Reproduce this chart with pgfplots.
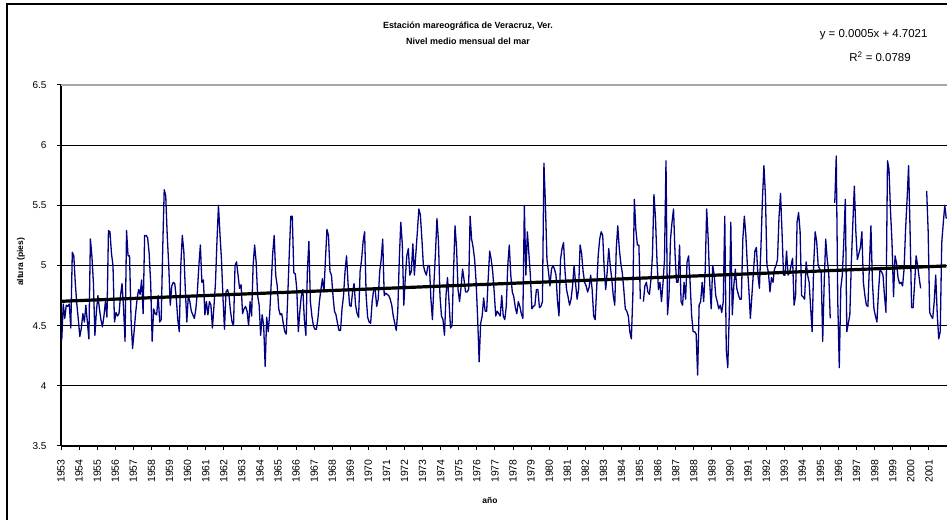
\documentclass[border=0pt]{standalone}
\usepackage{fontspec}
\setmainfont{Liberation Sans}
\usepackage{pgfplots}
\usepackage{pgfplotstable}
\pgfplotsset{compat=1.18}
\definecolor{navyline}{HTML}{000080}
\pgfplotstableread[row sep=\\]{
y\\
4.38\\ 4.68\\ 4.56\\ 4.67\\ 4.66\\ 4.68\\ 4.48\\ 5.11\\ 5.08\\ 4.85\\ 4.68\\ 4.55\\
4.41\\ 4.48\\ 4.60\\ 4.53\\ 4.67\\ 4.53\\ 4.39\\ 5.22\\ 5.08\\ 4.86\\ 4.42\\ 4.62\\
4.75\\ 4.64\\ 4.55\\ 4.49\\ 4.58\\ 4.70\\ 4.57\\ 5.29\\ 5.28\\ 5.10\\ 5.00\\ 4.53\\
4.61\\ 4.58\\ 4.60\\ 4.75\\ 4.85\\ 4.65\\ 4.37\\ 5.29\\ 5.08\\ 5.08\\ 4.55\\ 4.31\\
4.45\\ 4.60\\ 4.72\\ 4.80\\ 4.76\\ 4.88\\ 4.60\\ 5.25\\ 5.25\\ 5.23\\ 5.10\\ 4.86\\
4.37\\ 4.64\\ 4.60\\ 4.59\\ 4.75\\ 4.53\\ 4.55\\ 5.14\\ 5.63\\ 5.58\\ 5.25\\ 5.00\\
4.67\\ 4.83\\ 4.86\\ 4.85\\ 4.73\\ 4.55\\ 4.45\\ 5.00\\ 5.25\\ 5.12\\ 4.80\\ 4.53\\
4.75\\ 4.70\\ 4.62\\ 4.59\\ 4.56\\ 4.64\\ 4.78\\ 5.00\\ 5.17\\ 4.86\\ 4.88\\ 4.59\\
4.70\\ 4.59\\ 4.70\\ 4.67\\ 4.48\\ 4.66\\ 4.85\\ 5.20\\ 5.50\\ 5.26\\ 5.05\\ 4.73\\
4.47\\ 4.78\\ 4.80\\ 4.75\\ 4.62\\ 4.53\\ 4.50\\ 5.00\\ 5.03\\ 4.92\\ 4.81\\ 4.84\\
4.60\\ 4.64\\ 4.66\\ 4.62\\ 4.50\\ 4.70\\ 4.58\\ 5.00\\ 5.17\\ 5.03\\ 4.75\\ 4.67\\
4.42\\ 4.59\\ 4.50\\ 4.16\\ 4.57\\ 4.45\\ 4.60\\ 4.85\\ 5.10\\ 5.25\\ 4.92\\ 4.83\\
4.64\\ 4.59\\ 4.60\\ 4.52\\ 4.45\\ 4.43\\ 4.75\\ 5.10\\ 5.41\\ 5.41\\ 4.94\\ 4.93\\
4.80\\ 4.45\\ 4.62\\ 4.75\\ 4.80\\ 4.55\\ 4.42\\ 4.95\\ 5.20\\ 4.70\\ 4.58\\ 4.50\\
4.47\\ 4.47\\ 4.56\\ 4.70\\ 4.80\\ 4.89\\ 4.78\\ 5.05\\ 5.30\\ 5.25\\ 4.95\\ 4.92\\
4.75\\ 4.62\\ 4.59\\ 4.52\\ 4.46\\ 4.46\\ 4.64\\ 4.75\\ 4.95\\ 5.08\\ 4.85\\ 4.67\\
4.66\\ 4.78\\ 4.85\\ 4.67\\ 4.60\\ 4.57\\ 4.95\\ 5.05\\ 5.20\\ 5.28\\ 4.75\\ 4.57\\
4.53\\ 4.52\\ 4.70\\ 4.80\\ 4.80\\ 4.66\\ 4.72\\ 4.95\\ 5.05\\ 5.22\\ 4.75\\ 4.77\\
4.76\\ 4.75\\ 4.72\\ 4.67\\ 4.58\\ 4.52\\ 4.46\\ 4.62\\ 5.05\\ 5.36\\ 5.18\\ 4.67\\
4.90\\ 5.08\\ 5.14\\ 4.92\\ 4.95\\ 5.18\\ 4.92\\ 5.10\\ 5.28\\ 5.47\\ 5.42\\ 5.22\\
5.00\\ 4.95\\ 4.92\\ 5.00\\ 5.00\\ 4.72\\ 4.55\\ 4.85\\ 5.10\\ 5.39\\ 5.20\\ 4.75\\
4.58\\ 4.55\\ 4.42\\ 4.75\\ 4.90\\ 4.70\\ 4.48\\ 4.50\\ 4.95\\ 5.33\\ 5.15\\ 4.80\\
4.70\\ 4.82\\ 4.97\\ 4.88\\ 4.78\\ 4.78\\ 4.80\\ 5.41\\ 5.22\\ 5.15\\ 5.05\\ 4.86\\
4.56\\ 4.20\\ 4.52\\ 4.58\\ 4.73\\ 4.62\\ 4.62\\ 4.89\\ 5.12\\ 5.05\\ 4.95\\ 4.78\\
4.58\\ 4.62\\ 4.60\\ 4.58\\ 4.75\\ 4.58\\ 4.55\\ 4.66\\ 5.00\\ 5.17\\ 4.92\\ 4.78\\
4.74\\ 4.65\\ 4.60\\ 4.70\\ 4.66\\ 4.60\\ 4.56\\ 5.50\\ 4.92\\ 5.28\\ 5.10\\ 4.92\\
4.64\\ 4.66\\ 4.67\\ 4.80\\ 4.80\\ 4.65\\ 4.66\\ 4.70\\ 5.85\\ 5.50\\ 5.05\\ 4.95\\
4.83\\ 4.97\\ 5.00\\ 4.97\\ 4.92\\ 4.70\\ 4.58\\ 5.05\\ 5.14\\ 5.19\\ 4.95\\ 4.80\\
4.74\\ 4.67\\ 4.72\\ 4.83\\ 5.00\\ 4.85\\ 4.72\\ 4.80\\ 5.17\\ 5.10\\ 4.95\\ 4.86\\
4.83\\ 4.78\\ 4.82\\ 4.92\\ 4.80\\ 4.58\\ 4.55\\ 4.81\\ 5.08\\ 5.22\\ 5.28\\ 5.25\\
4.97\\ 4.80\\ 4.95\\ 5.14\\ 5.00\\ 4.89\\ 4.75\\ 4.67\\ 5.14\\ 5.33\\ 5.14\\ 5.02\\
4.94\\ 4.80\\ 4.64\\ 4.62\\ 4.58\\ 4.45\\ 4.39\\ 4.75\\ 5.55\\ 5.30\\ 5.17\\ 5.17\\
4.72\\ nan\\ 4.70\\ 4.83\\ 4.86\\ 4.78\\ 4.76\\ 4.88\\ 5.08\\ 5.59\\ 5.40\\ 5.05\\
4.80\\ 4.86\\ 4.70\\ 4.85\\ 5.05\\ 5.87\\ 4.59\\ 4.75\\ 5.22\\ 5.36\\ 5.47\\ 5.10\\
4.86\\ 4.86\\ 5.17\\ 4.70\\ 4.67\\ 4.86\\ 4.72\\ 5.03\\ 5.08\\ 4.86\\ 4.59\\ 4.45\\
4.45\\ 4.43\\ 4.09\\ 4.67\\ 4.70\\ 4.86\\ 4.70\\ 4.95\\ 5.47\\ 5.22\\ 4.86\\ 4.64\\
5.00\\ 4.92\\ 4.75\\ 4.70\\ 4.64\\ 4.67\\ 4.61\\ 4.70\\ 5.41\\ 4.30\\ 4.15\\ 4.60\\
5.36\\ 4.59\\ 4.83\\ 4.97\\ 4.81\\ 4.76\\ 4.72\\ 4.72\\ 5.22\\ 5.41\\ 5.25\\ 5.00\\
4.80\\ 4.56\\ 4.75\\ 4.94\\ 5.12\\ 5.15\\ 4.92\\ 4.81\\ 5.15\\ 5.55\\ 5.83\\ 5.58\\
5.00\\ 4.94\\ 4.78\\ 4.90\\ 4.86\\ 4.97\\ 5.00\\ 5.05\\ 5.40\\ 5.60\\ 5.28\\ 4.92\\
4.92\\ 5.12\\ 4.92\\ 4.94\\ 5.00\\ 5.06\\ 4.67\\ 4.75\\ 5.36\\ 5.44\\ 5.28\\ 4.75\\
4.74\\ 4.72\\ 5.03\\ 4.92\\ 4.86\\ 4.65\\ 4.45\\ 5.00\\ 5.28\\ 5.20\\ 5.00\\ 4.97\\
4.94\\ 4.37\\ 4.86\\ 5.22\\ 5.05\\ 4.94\\ 4.56\\ nan\\ nan\\ 5.52\\ 5.91\\ 4.70\\
4.15\\ 4.81\\ 4.92\\ 5.20\\ 5.55\\ 4.45\\ 4.52\\ 4.59\\ 5.02\\ 5.35\\ 5.66\\ 5.28\\
5.05\\ 5.10\\ 5.15\\ 5.28\\ 4.86\\ 4.75\\ 4.67\\ 4.66\\ 5.00\\ 5.33\\ 4.86\\ 4.64\\
4.58\\ 4.53\\ 4.78\\ 4.96\\ 4.95\\ 4.92\\ 4.75\\ 4.61\\ 5.87\\ 5.80\\ 5.45\\ 5.19\\
4.74\\ 5.08\\ 5.02\\ 4.90\\ 4.85\\ 4.86\\ 4.83\\ 4.97\\ 5.30\\ 5.55\\ 5.83\\ 5.28\\
4.65\\ 4.65\\ 4.85\\ 5.08\\ 5.00\\ 4.90\\ 4.81\\ nan\\ nan\\ nan\\ 5.62\\ 5.28\\
4.61\\ 4.58\\ 4.56\\ 4.70\\ 4.92\\ 4.60\\ 4.39\\ 4.45\\ 5.19\\ 5.35\\ 5.50\\ 5.39\\
}\nivel
\begin{document}
\begin{tikzpicture}[x=1bp,y=1bp]
\useasboundingbox (0,0) rectangle (947,520);
\fill[white] (0,0) rectangle (947,520);
\draw[line width=1.5bp] (7,-20) -- (7,516) -- (990,516);
\begin{axis}[
  at={(61bp,74bp)}, anchor=south west,
  scale only axis, width=886bp, height=361bp,
  xmin=0.5, xmax=588.5, ymin=3.5, ymax=6.5,
  axis x line*=bottom, axis y line*=left,
  axis line style={line width=1.3bp, black},
  xtick={0.5,12.5,...,588.5},
  xticklabels={1953,1954,1955,1956,1957,1958,1959,1960,1961,1962,1963,1964,1965,1966,1967,1968,1969,1970,1971,1972,1973,1974,1975,1976,1977,1978,1979,1980,1981,1982,1983,1984,1985,1986,1987,1988,1989,1990,1991,1992,1993,1994,1995,1996,1997,1998,1999,2000,2001,{}},
  x tick label style={rotate=90, anchor=east, font=\fontsize{10.5}{10.5}\selectfont},
  xticklabel shift=6bp,
  ytick={3.5,4,4.5,5,5.5,6,6.5},
  y tick label style={font=\fontsize{10}{10}\selectfont},
  yticklabel shift=7bp,
  ymajorgrids, grid style={line width=1.3bp, black},
  tick style={black, line width=1bp},
  major tick length=4bp,
  tick align=outside,
  /pgf/number format/assume math mode=true,
  unbounded coords=jump,
  clip=false,
]
\addplot[navyline, line width=1.3bp, line join=round] table[x expr=\coordindex+1, y=y] {\nivel};
\addplot[black, line width=3.2bp] coordinates {(1,4.7026) (588,4.9961)};
\draw[gray!70, line width=1.3bp] (rel axis cs:0,1) -- (rel axis cs:1,1);
\end{axis}
\node[font=\fontsize{9}{9}\selectfont\bfseries] at (468,494) {Estación mareográfica de Veracruz, Ver.};
\node[font=\fontsize{9}{9}\selectfont\bfseries] at (468,479) {Nivel medio mensual del mar};
\node[font=\fontsize{11.5}{12}\selectfont, anchor=east] at (931,485) {y = 0.0005x + 4.7021};
\node[font=\fontsize{11.5}{12}\selectfont] at (880,463) {R$^{\mathrm{2}}$ = 0.0789};
\node[font=\fontsize{8.5}{9}\selectfont\bfseries, rotate=90] at (21,258) {altura (pies)};
\node[font=\fontsize{8.5}{9}\selectfont\bfseries] at (490,20) {año};
\end{tikzpicture}
\end{document}
